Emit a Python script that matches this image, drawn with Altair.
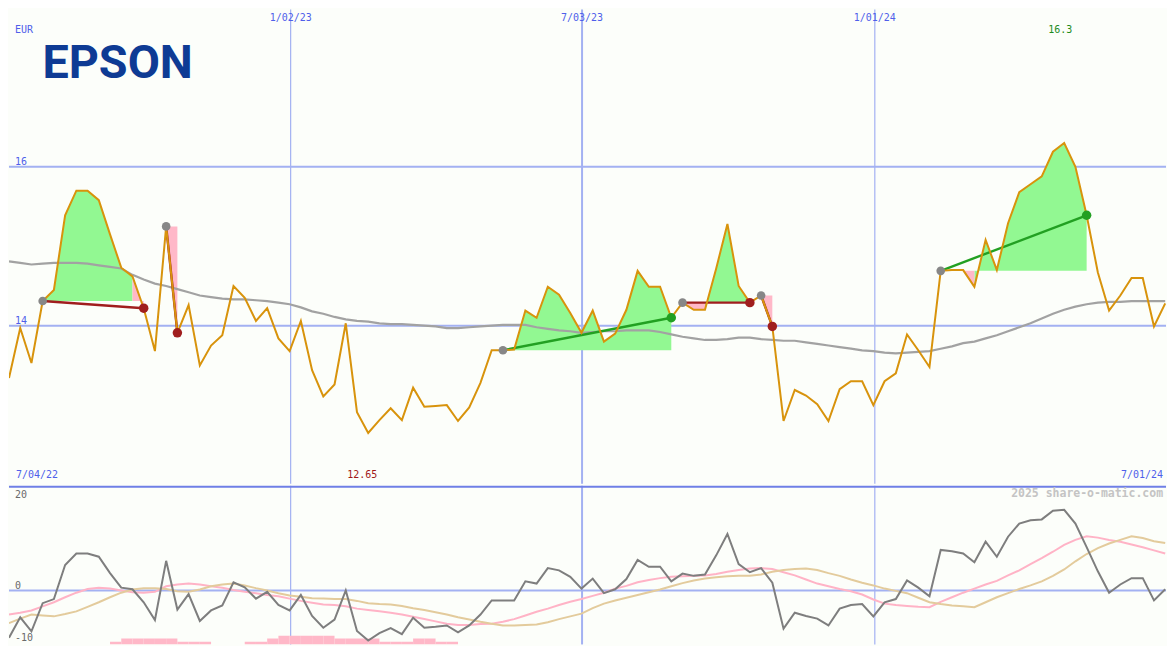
import altair as alt
import pandas as pd

# ---------------- data ----------------
prices = [13.34, 13.97, 13.53, 14.31, 14.45, 15.39, 15.70, 15.70, 15.58, 15.15,
          14.73, 14.62, 14.22, 13.68, 15.25, 13.91, 14.26, 13.50, 13.75, 13.88,
          14.50, 14.35, 14.06, 14.22, 13.84, 13.68, 14.06, 13.44, 13.11, 13.26,
          14.03, 12.91, 12.65, 12.81, 12.96, 12.81, 13.22, 12.98, 12.99, 13.00,
          12.80, 12.97, 13.28, 13.69, 13.69, 13.70, 14.19, 14.10, 14.49, 14.39,
          14.16, 13.91, 14.19, 13.80, 13.90, 14.20, 14.69, 14.49, 14.49, 14.10,
          14.29, 14.20, 14.20, 14.72, 15.28, 14.50, 14.29, 14.38, 13.99, 12.80,
          13.19, 13.12, 13.01, 12.80, 13.20, 13.30, 13.30, 13.00, 13.30, 13.40,
          13.89, 13.69, 13.48, 14.69, 14.70, 14.70, 14.49, 15.08, 14.70, 15.29,
          15.68, 15.78, 15.88, 16.19, 16.30, 16.00, 15.39, 14.67, 14.19, 14.38,
          14.60, 14.60, 13.99, 14.28]

moving_avg = [14.81, 14.79, 14.77, 14.78, 14.79, 14.79, 14.79, 14.78, 14.76, 14.74,
              14.72, 14.64, 14.58, 14.53, 14.50, 14.46, 14.42, 14.38, 14.36, 14.34,
              14.33, 14.33, 14.32, 14.31, 14.29, 14.27, 14.23, 14.18, 14.15, 14.11,
              14.08, 14.06, 14.05, 14.03, 14.02, 14.02, 14.01, 14.00, 13.99, 13.97,
              13.97, 13.98, 13.99, 14.00, 14.01, 14.01, 14.01, 13.98, 13.96, 13.94,
              13.93, 13.91, 13.92, 13.93, 13.93, 13.94, 13.94, 13.94, 13.92, 13.89,
              13.86, 13.84, 13.82, 13.82, 13.83, 13.85, 13.85, 13.83, 13.82, 13.81,
              13.81, 13.79, 13.77, 13.75, 13.73, 13.71, 13.69, 13.68, 13.66, 13.65,
              13.66, 13.67, 13.68, 13.71, 13.74, 13.78, 13.80, 13.84, 13.88, 13.93,
              13.98, 14.03, 14.09, 14.15, 14.20, 14.24, 14.27, 14.29, 14.30, 14.30,
              14.31, 14.31, 14.31, 14.31]

momentum = [-10.4, -5.9, -9.0, -2.8, -1.9, 5.6, 8.1, 8.1, 7.4, 3.8,
            0.6, 0.25, -2.6, -6.5, 6.5, -4.2, -0.8, -6.7, -4.4, -3.3,
            1.8, 0.7, -1.8, -0.3, -3.2, -4.4, -1.0, -5.6, -8.2, -6.4,
            0.0, -8.9, -11.0, -9.4, -8.3, -9.6, -6.0, -8.2, -8.0, -7.7,
            -9.2, -7.7, -5.3, -2.2, -2.2, -2.2, 2.0, 1.5, 4.9, 4.4,
            3.0, 0.4, 2.6, -0.6, 0.25, 2.5, 6.7, 5.2, 5.2, 2.0,
            3.7, 3.2, 3.5, 7.7, 12.4, 5.8, 4.0, 4.9, 1.7, -8.4,
            -4.9, -5.6, -6.2, -7.7, -4.0, -3.2, -3.0, -5.7, -2.6, -1.9,
            2.2, 0.6, -1.3, 8.9, 8.6, 8.1, 6.2, 10.7, 7.4, 11.8,
            14.7, 15.4, 15.6, 17.5, 17.7, 14.7, 9.5, 4.2, -0.5, 1.3,
            2.7, 2.7, -2.2, 0.25]

mom_fast = [-5.3, -4.9, -4.4, -3.5, -2.6, -1.5, -0.5, 0.3, 0.6, 0.4,
            0.0, -0.4, -0.5, -0.3, 0.9, 1.3, 1.5, 1.3, 0.9, 0.6,
            0.1, -0.3, -0.6, -1.0, -1.3, -1.8, -2.3, -2.7, -3.1, -3.2,
            -3.5, -4.0, -4.3, -4.6, -4.9, -5.3, -5.8, -6.3, -6.8, -7.3,
            -7.6, -7.6, -7.4, -7.3, -6.9, -6.3, -5.5, -4.7, -4.0, -3.2,
            -2.5, -1.9, -1.2, -0.5, 0.4, 1.0, 1.8, 2.3, 2.7, 3.0,
            3.1, 3.2, 3.3, 3.6, 4.1, 4.5, 4.8, 4.9, 4.7, 4.0,
            3.3, 2.4, 1.5, 0.9, 0.3, -0.2, -0.9, -2.0, -2.9, -3.2,
            -3.4, -3.6, -3.7, -2.5, -1.5, -0.5, 0.4, 1.3, 2.1, 3.3,
            4.4, 5.8, 7.1, 8.5, 10.0, 11.1, 11.9, 11.6, 11.1, 10.7,
            10.1, 9.5, 8.8, 8.1]

mom_slow = [-7.2, -6.2, -5.3, -5.5, -5.7, -5.2, -4.6, -3.6, -2.6, -1.5,
            -0.5, 0.2, 0.5, 0.5, 0.3, -0.2, -0.3, 0.2, 0.9, 1.3,
            1.5, 1.1, 0.5, 0.0, -0.6, -1.1, -1.4, -1.7, -1.8, -1.9,
            -1.9, -2.3, -2.8, -3.0, -3.1, -3.4, -3.9, -4.3, -4.8, -5.3,
            -5.9, -6.4, -6.9, -7.3, -7.7, -7.7, -7.6, -7.5, -7.0, -6.3,
            -5.7, -5.1, -3.9, -2.9, -2.2, -1.6, -1.0, -0.4, 0.2, 0.9,
            1.6, 2.2, 2.6, 2.9, 3.1, 3.2, 3.2, 3.5, 4.1, 4.5,
            4.7, 4.8, 4.5, 3.8, 3.2, 2.4, 1.7, 1.1, 0.4, -0.1,
            -0.6, -1.6, -2.6, -3.0, -3.3, -3.5, -3.7, -2.6, -1.5, -0.6,
            0.3, 1.1, 2.0, 3.2, 4.6, 6.4, 8.0, 9.3, 10.3, 11.1,
            11.9, 11.5, 10.8, 10.4]

signal = [0, 0, 0, 0, 0, 0, 0, 0, 0, 0.6,
          1.3, 1.3, 1.3, 1.3, 1.3, 0.6, 0.6, 0.6, 0, 0,
          0, 0.6, 0.6, 1.3, 1.9, 1.9, 1.9, 1.9, 1.9, 1.3,
          1.3, 1.3, 1.3, 0.6, 0.6, 0.6, 1.3, 1.3, 0.6, 0.6,
          0, 0, 0, 0, 0, 0, 0, 0, 0, 0,
          0, 0, 0, 0, 0, 0, 0, 0, 0, 0,
          0, 0, 0, 0, 0, 0, 0, 0, 0, 0,
          0, 0, 0, 0, 0, 0, 0, 0, 0, 0,
          0, 0, 0, 0, 0, 0, 0, 0, 0, 0,
          0, 0, 0, 0, 0, 0, 0, 0, 0, 0,
          0, 0, 0, 0]

trade_entry = [3, 14, 44, 60, 67, 83]
trade_exit = [12, 15, 59, 66, 68, 96]

date_grid = [25.09, 51.05, 77.13]
date_labels = ["1/02/23", "7/03/23", "1/01/24"]
first_date, last_date = "7/04/22", "7/01/24"
price_grid = [16, 14]
price_grid_labels = ["16", "14"]
osc_grid = [0]
osc_label_vals = [20, 0]
osc_low_label = [-10]
currency = "EUR"
company = "EPSON"
credit = "2025 share-o-matic.com"

# ---------------- layout / style ----------------
W, H_TOP, H_BOT = 1159, 475, 159
SX = W / 1175
SY = (H_TOP + H_BOT) / 650
X_DOM = [0, 103.07]
P_DOM = [12.01, 17.98]
O_DOM = [-11.87, 23.0]

BG = "#FCFEFA"
GRID = "#A3B1F2"
SEP = "#6F7FE6"
BLUE_TXT = "#4F5FEA"
ORANGE = "#D8930C"
MA_GRAY = "#A2A2A2"
GREEN_FILL = "#92F892"
PINK = "#FFB8C8"
WIN = "#22A022"
LOSS = "#A01E1E"
MONO = "DejaVu Sans Mono"


def fmt(v):
    return f"{v:.2f}".rstrip("0").rstrip(".")


n = len(prices)
main = pd.DataFrame({"i": list(range(n)), "price": prices, "ma": moving_avg,
                     "mom": momentum, "fast": mom_fast, "slow": mom_slow,
                     "sig": signal})
main["sig_lo"] = O_DOM[0]
main["sig_hi"] = [O_DOM[0] + s for s in signal]
main["i2"] = main["i"] + 1

# fill areas between price and entry level of every trade
rows = []
gid = 0
for e, x in zip(trade_entry, trade_exit):
    base = prices[e]
    prev = None
    for k in range(e, x):
        c = "up" if prices[k + 1] >= base else "down"
        if c != prev:
            gid += 1
            rows.append(dict(g=gid, i=k, p=prices[k], base=base, c=c))
            prev = c
        rows.append(dict(g=gid, i=k + 1, p=prices[k + 1], base=base, c=c))
fill_df = pd.DataFrame(rows)

trade_rows, exit_rows, entry_rows = [], [], []
for t, (e, x) in enumerate(zip(trade_entry, trade_exit)):
    res = "win" if prices[x] > prices[e] else "loss"
    trade_rows.append(dict(t=t, i=e, p=prices[e], r=res))
    trade_rows.append(dict(t=t, i=x, p=prices[x], r=res))
    entry_rows.append(dict(i=e, p=prices[e]))
    exit_rows.append(dict(i=x, p=prices[x], r=res))
trade_df = pd.DataFrame(trade_rows)
entry_df = pd.DataFrame(entry_rows)
exit_df = pd.DataFrame(exit_rows)

imax = prices.index(max(prices))
imin = prices.index(min(prices))
extremes = pd.DataFrame({"i": [imax, imin], "lab": [fmt(prices[imax]), fmt(prices[imin])],
                         "kind": ["max", "min"]})

xs = alt.Scale(domain=X_DOM, nice=False, zero=False)
ps = alt.Scale(domain=P_DOM, nice=False, zero=False)
osc_s = alt.Scale(domain=O_DOM, nice=False, zero=False)


def X(f="i"):
    return alt.X(f"{f}:Q", scale=xs, axis=None)


def PY(f):
    return alt.Y(f"{f}:Q", scale=ps, axis=None)


def OY(f):
    return alt.Y(f"{f}:Q", scale=osc_s, axis=None)


grid_df = pd.DataFrame({"i": date_grid, "label": date_labels})
vgrid = alt.Chart(grid_df).mark_rule(color=GRID).encode(
    x=X(),
    strokeWidth=alt.condition("datum.label == '7/03/23'", alt.value(2), alt.value(1.2)),
)

# ---------------- top panel ----------------
hgrid = alt.Chart(pd.DataFrame({"v": price_grid})).mark_rule(
    color=GRID, strokeWidth=2).encode(y=PY("v"))

fill_up = alt.Chart(fill_df).transform_filter("datum.c == 'up'").mark_area(
    clip=True, opacity=1, color=GREEN_FILL).encode(
    x=X(), y=PY("p"), y2="base:Q", detail="g:N")
fill_down = alt.Chart(fill_df).transform_filter("datum.c == 'down'").mark_area(
    clip=True, opacity=1, color=PINK).encode(
    x=X(), y=PY("p"), y2="base:Q", detail="g:N")

ma_line = alt.Chart(main).mark_line(clip=True, color=MA_GRAY, strokeWidth=2.2).encode(
    x=X(), y=PY("ma"))

win_lines = alt.Chart(trade_df).transform_filter("datum.r == 'win'").mark_line(
    clip=True, strokeWidth=2.4, color=WIN).encode(x=X(), y=PY("p"), detail="t:N")
loss_lines = alt.Chart(trade_df).transform_filter("datum.r == 'loss'").mark_line(
    clip=True, strokeWidth=2.4, color=LOSS).encode(x=X(), y=PY("p"), detail="t:N")

price_line = alt.Chart(main).mark_line(clip=True, color=ORANGE, strokeWidth=2).encode(
    x=X(), y=PY("price"))

entries = alt.Chart(entry_df).mark_circle(size=75, opacity=1, color="#878787").encode(
    x=X(), y=PY("p"))
exit_win = alt.Chart(exit_df).transform_filter("datum.r == 'win'").mark_circle(
    size=90, opacity=1, color=WIN).encode(x=X(), y=PY("p"))
exit_loss = alt.Chart(exit_df).transform_filter("datum.r == 'loss'").mark_circle(
    size=90, opacity=1, color=LOSS).encode(x=X(), y=PY("p"))

txt = dict(font=MONO, fontSize=10, baseline="middle")

date_txt = alt.Chart(grid_df).mark_text(color=BLUE_TXT, align="center", **txt).encode(
    x=X(), y=alt.value(9 * SY), text="label:N")

pgrid_txt = alt.Chart(pd.DataFrame({"v": price_grid, "lab": price_grid_labels})).mark_text(
    color=BLUE_TXT, align="left", dy=-5 * SY, **txt).encode(
    x=alt.value(6 * SX), y=PY("v"), text="lab:N")

eur_txt = alt.Chart(pd.DataFrame({"t": [currency]})).mark_text(
    color=BLUE_TXT, align="left", **txt).encode(
    x=alt.value(6 * SX), y=alt.value(21 * SY), text="t:N")

logo = alt.Chart(pd.DataFrame({"t": [company]})).mark_text(
    font="Roboto", fontWeight="bold", fontSize=48 * SY, color="#0E3B94",
    align="left", baseline="alphabetic").encode(
    x=alt.value(34 * SX), y=alt.value(70 * SY), text="t:N")

max_txt = alt.Chart(extremes).transform_filter("datum.kind == 'max'").mark_text(
    color="#1E8C1E", align="center", dx=-4 * SX, **txt).encode(
    x=X(), y=alt.value(21 * SY), text="lab:N")

min_txt = alt.Chart(extremes).transform_filter("datum.kind == 'min'").mark_text(
    color="#A01818", align="center", dx=-6 * SX, **txt).encode(
    x=X(), y=alt.value(478.5 * SY), text="lab:N")

start_txt = alt.Chart(pd.DataFrame({"t": [first_date]})).mark_text(
    color=BLUE_TXT, align="left", **txt).encode(
    x=alt.value(7 * SX), y=alt.value(478.5 * SY), text="t:N")

end_txt = alt.Chart(pd.DataFrame({"t": [last_date]})).mark_text(
    color=BLUE_TXT, align="right", **txt).encode(
    x=alt.value(1172 * SX), y=alt.value(478.5 * SY), text="t:N")

top = alt.layer(
    vgrid, hgrid, fill_up, fill_down, ma_line, win_lines, loss_lines, price_line,
    entries, exit_win, exit_loss,
    date_txt, pgrid_txt, eur_txt, logo, max_txt, min_txt, start_txt, end_txt,
).properties(width=W, height=H_TOP)

# ---------------- bottom panel ----------------
ogrid = alt.Chart(pd.DataFrame({"v": osc_grid})).mark_rule(
    color=GRID, strokeWidth=2).encode(y=OY("v"))

bars = alt.Chart(main).transform_filter("datum.sig > 0").mark_rect(
    color=PINK, clip=True).encode(x=X(), x2="i2:Q", y=OY("sig_lo"), y2="sig_hi:Q")

fast_line = alt.Chart(main).mark_line(clip=True, color="#FFB3C6", strokeWidth=2).encode(
    x=X(), y=OY("fast"))
slow_line = alt.Chart(main).mark_line(clip=True, color="#E3CB9C", strokeWidth=2).encode(
    x=X(), y=OY("slow"))
mom_line = alt.Chart(main).mark_line(clip=True, color="#7E7E7E", strokeWidth=2).encode(
    x=X(), y=OY("mom"))

sep = alt.Chart(pd.DataFrame({"t": [0]})).mark_rule(color=SEP, strokeWidth=2).encode(
    x=alt.value(0), x2=alt.value(W), y=alt.value(1))

olab = alt.Chart(pd.DataFrame({"v": osc_label_vals})).mark_text(
    color="#6A6A6A", align="left", dy=-5 * SY, **txt).encode(
    x=alt.value(6 * SX), y=OY("v"), text="v:N")
olab_low = alt.Chart(pd.DataFrame({"v": osc_low_label})).mark_text(
    color="#6A6A6A", align="left", dy=2 * SY, **txt).encode(
    x=alt.value(6 * SX), y=OY("v"), text="v:N")

credit_txt = alt.Chart(pd.DataFrame({"t": [credit]})).mark_text(
    color="#C4C4C4", align="right", font=MONO, fontSize=11.5, fontWeight="bold",
    baseline="middle").encode(
    x=alt.value(1172 * SX), y=alt.value(9 * SY), text="t:N")

bottom = alt.layer(
    vgrid, ogrid, bars, fast_line, slow_line, mom_line, sep, olab, olab_low, credit_txt,
).properties(width=W, height=H_BOT)

chart = alt.vconcat(top, bottom, spacing=0).properties(
    padding=0, background=BG,
).configure_view(stroke=None)

chart.save("out.html", embed_options={"renderer": "svg", "actions": False})
